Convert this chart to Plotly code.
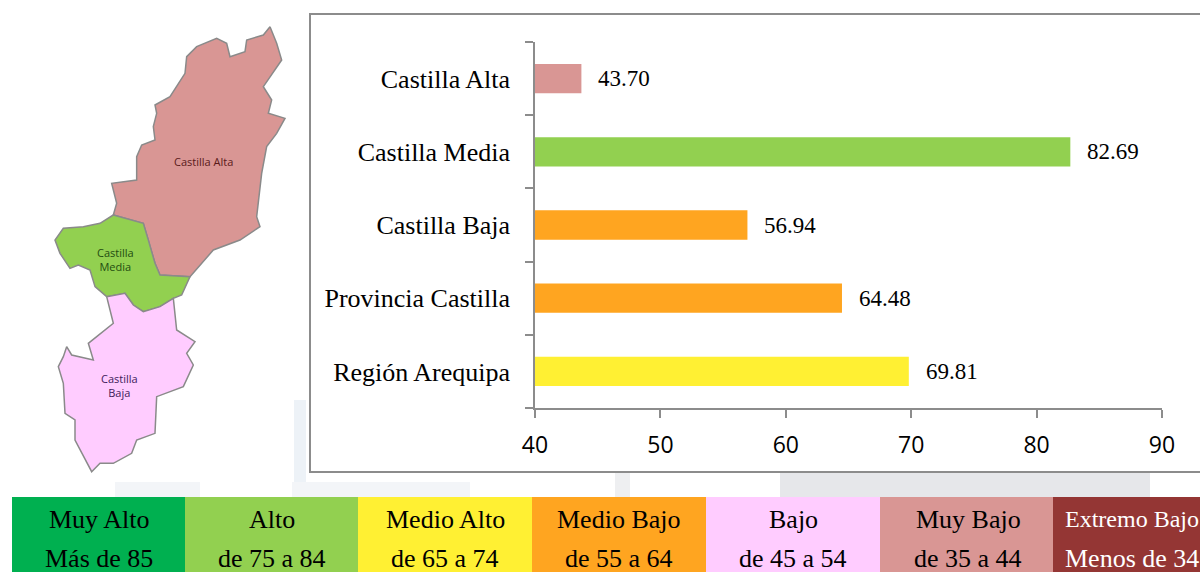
import plotly.graph_objects as go

categories = ["Región Arequipa", "Provincia Castilla", "Castilla Baja", "Castilla Media", "Castilla Alta"]
values = [69.81, 64.48, 56.94, 82.69, 43.70]
value_labels = ["69.81", "64.48", "56.94", "82.69", "43.70"]
bar_colors = ["#FFF033", "#FFA520", "#FFA520", "#92D050", "#D99694"]
x_ticks = [40, 50, 60, 70, 80, 90]

band_line1 = ["Muy Alto", "Alto", "Medio Alto", "Medio Bajo", "Bajo", "Muy Bajo", "Extremo Bajo"]
band_line2 = ["Más de 85", "de 75 a 84", "de 65 a 74", "de 55 a 64", "de 45 a 54", "de 35 a 44", "Menos de 34"]
band_colors = ["#00B050", "#92D050", "#FFF033", "#FFA520", "#FFCCFF", "#D99694", "#943634"]
band_text_colors = ["#000", "#000", "#000", "#000", "#000", "#000", "#fff"]
band_edges = [12, 185, 358, 532, 706, 880, 1053, 1200]
band_centers = [99, 272, 445, 619, 793, 968, 1132]
band_sizes1 = [26, 26, 26, 26, 26, 26, 24]
band_sizes2 = [26, 26, 26, 26, 26, 26, 26]

alta_outline = [(810,80),(830,130),(845,180),(825,210),(790,260),(815,300),(805,340),(855,355),(830,400),(800,440),(785,520),(770,650),(780,680),(720,720),(640,750),(570,830),(480,825),(465,790),(445,720),(430,670),(340,645),(350,610),(335,550),(410,540),(410,470),(425,435),(465,420),(460,380),(470,340),(465,315),(510,290),(555,220),(560,170),(590,140),(650,115),(680,130),(690,170),(735,155),(740,120),(790,105),(810,80)]
media_outline = [(340,645),(430,670),(445,720),(465,790),(480,825),(570,830),(545,885),(520,895),(480,920),(430,935),(400,915),(375,880),(320,890),(285,860),(270,810),(235,795),(210,805),(180,760),(165,720),(190,685),(250,680),(300,670),(340,645)]
baja_outline = [(320,890),(375,880),(400,915),(430,935),(480,920),(520,895),(530,990),(585,1025),(560,1060),(580,1095),(550,1160),(470,1190),(465,1300),(410,1320),(395,1360),(340,1390),(300,1390),(275,1415),(225,1320),(225,1260),(195,1240),(190,1150),(175,1100),(190,1070),(200,1040),(215,1065),(280,1080),(265,1030),(340,970),(320,890)]
map_regions = [("Castilla Alta", alta_outline, "#D99694"), ("Castilla Media", media_outline, "#92D050"), ("Castilla Baja", baja_outline, "#FFCCFF")]
map_labels = [("Castilla Alta", 203, 161, "#5a1a1a"), ("Castilla<br>Media", 115, 259, "#1f4d10"), ("Castilla<br>Baja", 119, 385, "#40205a")]

# faint watermark patches behind the panels: x0, x1, y0, y1, colour
watermark = [
    (294, 306, 400, 482, "#EDF2F7"),
    (292, 470, 482, 497, "#F3F5F8"),
    (115, 200, 482, 497, "#F3F5F8"),
    (615, 630, 473, 497, "#EEEFF1"),
    (780, 1150, 473, 497, "#E6E7EA"),
]

W, H = 1200, 572
SERIF = "Liberation Serif"
fig = go.Figure()

for name, outline, color in map_regions:
    fig.add_trace(go.Scatter(x=[p[0] / 3 for p in outline], y=[p[1] / 3 for p in outline],
                             xaxis="x2", yaxis="y2", mode="lines", fill="toself", fillcolor=color,
                             line=dict(color="#8a8a8a", width=1.5), hoverinfo="skip", showlegend=False))

fig.add_trace(go.Bar(y=categories, x=values, orientation="h", marker=dict(color=bar_colors, line_width=0),
                     width=0.4, showlegend=False))

shapes = []
for x0, x1, y0, y1, c in watermark:
    shapes.append(dict(type="rect", xref="paper", yref="paper", x0=x0/W, x1=x1/W, y0=1-y1/H, y1=1-y0/H,
                       fillcolor=c, line_width=0, layer="below"))
shapes += [
    dict(type="rect", xref="paper", yref="paper", x0=50/W, x1=292/W, y0=1-481/H, y1=1-20/H,
         fillcolor="white", line_width=0, layer="below"),
    dict(type="rect", xref="paper", yref="paper", x0=310/W, x1=1.01, y0=1-472/H, y1=1-14/H,
         fillcolor="white", line=dict(color="#8C8C8C", width=2), layer="below"),
]
for x0, x1, c in zip(band_edges[:-1], band_edges[1:], band_colors):
    shapes.append(dict(type="rect", xref="paper", yref="paper", x0=x0/W, x1=x1/W, y0=0, y1=1-497/H,
                       fillcolor=c, line_width=0, layer="above"))

annotations = []
for c, v, t in zip(categories, values, value_labels):
    annotations.append(dict(x=v, y=c, xref="x", yref="y", text=t, showarrow=False, xanchor="left", xshift=15,
                            font=dict(family=SERIF, size=23, color="#000")))
for i, (a, b) in enumerate(zip(band_line1, band_line2)):
    cx = band_centers[i] / W
    for txt, py, sz in ((a, 519, band_sizes1[i]), (b, 558, band_sizes2[i])):
        annotations.append(dict(x=cx, y=1-py/H, xref="paper", yref="paper", text=txt, showarrow=False,
                                xanchor="center", yanchor="middle",
                                font=dict(family=SERIF, size=sz, color=band_text_colors[i])))
for txt, px, py, col in map_labels:
    annotations.append(dict(x=px/W, y=1-py/H, xref="paper", yref="paper", text=txt, showarrow=False,
                            xanchor="center", yanchor="middle",
                            font=dict(family="Open Sans", size=11, color=col)))

fig.update_layout(
    width=W, height=H, margin=dict(l=0, r=0, t=0, b=0, autoexpand=False), autosize=False,
    paper_bgcolor="#FFFFFF", plot_bgcolor="rgba(0,0,0,0)", bargap=0.6,
    xaxis=dict(domain=[535/W, 1162/W], range=[40, 90], tickvals=x_ticks, ticks="outside", ticklen=8,
               tickwidth=1.5, tickcolor="#8C8C8C", showline=True, linecolor="#8C8C8C", linewidth=1.5,
               showgrid=False, zeroline=False, ticklabelstandoff=8,
               tickfont=dict(family="Open Sans", size=23, color="#000"), anchor="y"),
    yaxis=dict(domain=[1-408/H, 1-42/H], type="category", categoryorder="array", categoryarray=categories,
               ticks="outside", tickson="boundaries", ticklen=8, tickwidth=1.5, tickcolor="#8C8C8C",
               showline=True, linecolor="#8C8C8C", linewidth=1.5, showgrid=False, ticklabelstandoff=18,
               tickfont=dict(family=SERIF, size=26, color="#000"), anchor="x"),
    xaxis2=dict(domain=[0, 1], range=[0, W], visible=False, anchor="y2"),
    yaxis2=dict(domain=[0, 1], range=[H, 0], visible=False, anchor="x2"),
    shapes=shapes, annotations=annotations,
)
fig.write_html("out.html", config={"displayModeBar": False},
               post_script="document.body.style.margin='0';document.body.style.overflow='hidden';")
